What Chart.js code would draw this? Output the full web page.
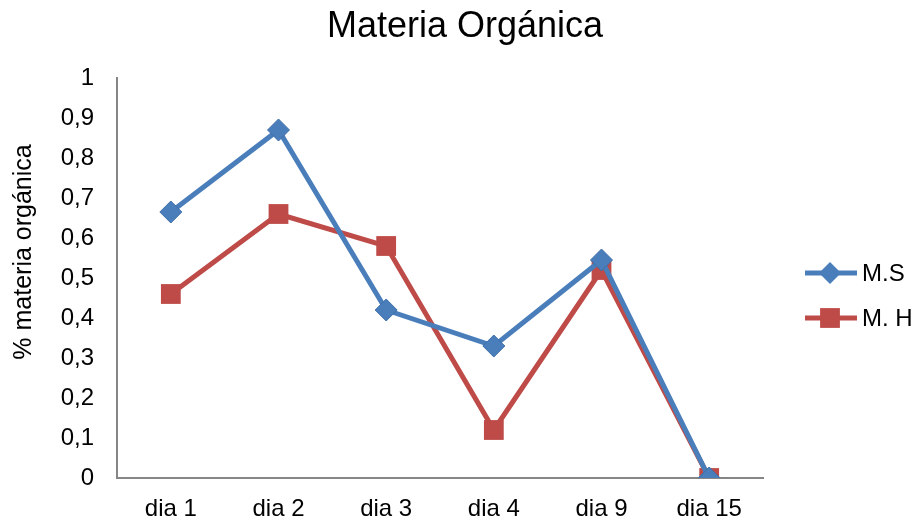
<!DOCTYPE html>
<html><head><meta charset="utf-8">
<script src="https://cdn.jsdelivr.net/npm/chart.js@4/dist/chart.umd.min.js"></script>
<style>html,body{margin:0;padding:0;background:#fff}#wrap{width:923px;height:528px}</style>
</head><body><div id="wrap"><canvas id="c" width="923" height="528"></canvas></div>
<script>
const categories = ['dia 1','dia 2','dia 3','dia 4','dia 9','dia 15'];
const seriesMS = [0.665, 0.87, 0.42, 0.33, 0.545, 0];
const seriesMH = [0.46, 0.66, 0.58, 0.12, 0.52, 0];
const seriesNames = ['M.S','M. H'];
const yTicks = [0,0.1,0.2,0.3,0.4,0.5,0.6,0.7,0.8,0.9,1];
const chartTitle = 'Materia Orgánica';
const yTitle = '% materia orgánica';

const blue = '#4A7EBB', red = '#BE4B48';
const FONT = 'Liberation Sans, Arial, sans-serif';

const extrasPlugin = {
  id: 'extras',
  afterDraw(chart) {
    const ctx = chart.ctx;
    ctx.save();
    ctx.fillStyle = '#000';
    ctx.font = '36px ' + FONT;
    ctx.textAlign = 'center';
    ctx.textBaseline = 'alphabetic';
    ctx.fillText(chartTitle, 465, 37);
    ctx.restore();

    ctx.save();
    ctx.translate(24, 252);
    ctx.rotate(-Math.PI / 2);
    ctx.fillStyle = '#000';
    ctx.font = '25px ' + FONT;
    ctx.textAlign = 'center';
    ctx.textBaseline = 'middle';
    ctx.fillText(yTitle, 0, 0);
    ctx.restore();

    const ys = [273, 318];
    chart.data.datasets.forEach((ds, i) => {
      const y = ys[i];
      ctx.save();
      ctx.strokeStyle = ds.borderColor;
      ctx.lineWidth = 5;
      ctx.beginPath(); ctx.moveTo(805, y); ctx.lineTo(857, y); ctx.stroke();
      ctx.fillStyle = ds.borderColor;
      ctx.beginPath();
      if (ds.pointStyle === 'rectRot') {
        const r = ds.pointRadius;
        ctx.moveTo(830, y - r); ctx.lineTo(830 + r, y); ctx.lineTo(830, y + r); ctx.lineTo(830 - r, y); ctx.closePath();
      } else {
        const s = ds.pointRadius * Math.SQRT1_2;
        ctx.rect(830 - s, y - s, 2 * s, 2 * s);
      }
      ctx.fill();
      ctx.fillStyle = '#000';
      ctx.font = '24px ' + FONT;
      ctx.textBaseline = 'middle';
      ctx.textAlign = 'left';
      ctx.fillText(ds.label, 862, y + 1);
      ctx.restore();
    });
  }
};

new Chart(document.getElementById('c'), {
  type: 'line',
  data: {
    labels: categories,
    datasets: [
      {label: seriesNames[0], data: seriesMS, borderColor: blue, backgroundColor: blue, borderWidth: 5,
       pointStyle: 'rectRot', pointRadius: 11, pointBorderWidth: 1, pointBorderColor: '#3F6FA8', tension: 0},
      {label: seriesNames[1], data: seriesMH, borderColor: red, backgroundColor: red, borderWidth: 5,
       pointStyle: 'rect', pointRadius: 14, pointBorderWidth: 0, tension: 0}
    ]
  },
  options: {
    responsive: false,
    animation: false,
    layout: {padding: {left: 0, right: 160, top: 78, bottom: 0}},
    plugins: {
      legend: {display: false},
      tooltip: {enabled: false},
      title: {display: false}
    },
    scales: {
      x: {
        offset: true,
        grid: {display: false, drawTicks: false},
        border: {display: true, color: '#868686', width: 2},
        ticks: {color: '#000', font: {family: FONT, size: 24}, padding: 17, maxRotation: 0},
        afterFit: s => { s.height = 50; }
      },
      y: {
        min: 0, max: 1,
        afterBuildTicks: s => { s.ticks = yTicks.map(v => ({value: v})); },
        grid: {display: false, drawTicks: false},
        border: {display: true, color: '#868686', width: 2},
        ticks: {color: '#000', font: {family: FONT, size: 24}, padding: 23,
          callback: v => String(v).replace('.', ',')},
        afterFit: s => { s.width = 117; }
      }
    }
  },
  plugins: [extrasPlugin]
});
</script></body></html>
